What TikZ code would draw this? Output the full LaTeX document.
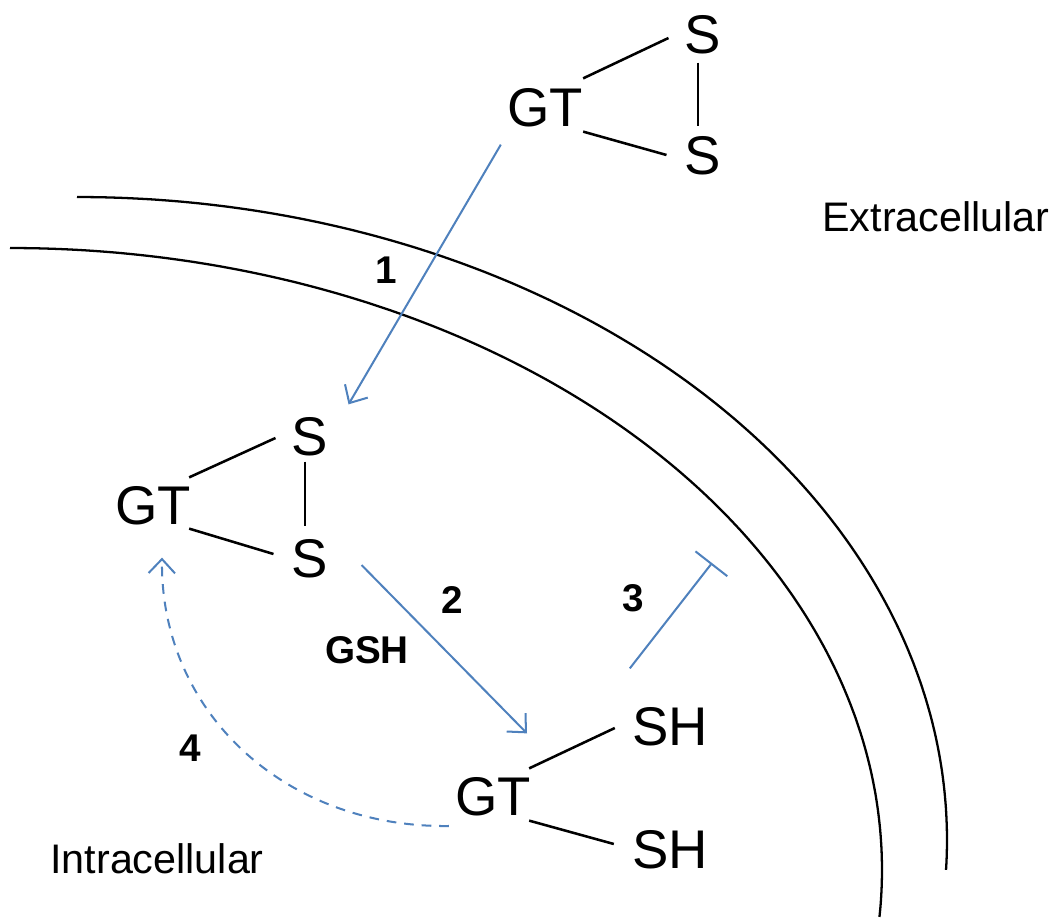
\documentclass[tikz,border=0pt]{standalone}
\usepackage{fontspec}
\setmainfont{Liberation Sans}
\usetikzlibrary{arrows.meta}
\definecolor{pathblue}{RGB}{79,129,189}
\tikzset{
  mol/.style={inner sep=0pt, font=\fontsize{31}{36}\selectfont},
  numlbl/.style={inner sep=0pt, font=\fontsize{22}{26}\selectfont\bfseries},
  region/.style={inner sep=0pt, font=\fontsize{23.5}{28}\selectfont},
  bond/.style={draw=black, line width=1.45pt},
  membrane/.style={draw=black, line width=1.3pt},
  flow/.style={draw=pathblue, line width=1.15pt, -{Straight Barb[length=8pt,width=15pt,line width=1.15pt]}},
  inhib/.style={draw=pathblue, line width=1.15pt, -{Bar[width=23pt,line width=1.15pt]}},
  recycle/.style={draw=pathblue, line width=1.15pt, dash pattern=on 5.5pt off 4.5pt, -{Straight Barb[length=8pt,width=15pt,line width=1.15pt]}}
}
\begin{document}
\begin{tikzpicture}[x=0.02cm,y=-0.02cm]
\useasboundingbox (0,0) rectangle (1054,918);
% membrane
\draw[membrane] plot[domain=-90:2.67, samples=150, smooth] ({77+870*cos(\x)}, {840+643*sin(\x)});
\draw[membrane] plot[domain=-90:4.33, samples=150, smooth] ({10+872*cos(\x)}, {870+622*sin(\x)});
% top molecule
\node[mol] (gt1) at (545,108) {GT};
\node[mol] (s1) at (703,35) {S};
\node[mol] (s2) at (703,156) {S};
\draw[bond] ([shift={(0,-10)}]gt1.north east) -- ([shift={(-16,3)}]s1.west);
\draw[bond] ([shift={(0,4)}]gt1.south east) -- ([shift={(-18,-1)}]s2.west);
\draw[bond] ([shift={(-5,8)}]s1.south) -- ([shift={(-5,-10)}]s2.north);
% middle molecule
\node[mol] (gt2) at (153,506) {GT};
\node[mol] (s3) at (310,437) {S};
\node[mol] (s4) at (310,559) {S};
\draw[bond] ([shift={(-2,-9)}]gt2.north east) -- ([shift={(-16,1)}]s3.west);
\draw[bond] ([shift={(-2,3)}]gt2.south east) -- ([shift={(-18,-5)}]s4.west);
\draw[bond] ([shift={(-5,5)}]s3.south) -- ([shift={(-5,-13)}]s4.north);
% bottom molecule
\node[mol] (gt3) at (493,797) {GT};
\node[mol] (sh1) at (670,727) {SH};
\node[mol] (sh2) at (670,850) {SH};
\draw[bond] ([shift={(-2,-9)}]gt3.north east) -- ([shift={(-17,1)}]sh1.west);
\draw[bond] ([shift={(-2,4)}]gt3.south east) -- ([shift={(-18,-6)}]sh2.west);
% labels
\node[numlbl] (n1) at (386,270) {1};
\node[numlbl] (n2) at (452,600) {2};
\node[numlbl] (n3) at (633,598) {3};
\node[numlbl] (n4) at (190,748) {4};
\node[numlbl] (gsh) at (367,650) {GSH};
\node[region, anchor=base west] (extra) at (822,232) {Extracellular};
\node[region, anchor=base west] (intra) at (50,873) {Intracellular};
% connectors
\draw[flow] ([shift={(-6,17)}]gt1.south west) -- ([shift={(20,-13)}]s3.north east);
\draw[flow] ([shift={(33,6)}]s4.east) -- ([shift={(34,-44)}]gt3.north);
\coordinate (block) at (712,563);
\draw[inhib] ([shift={(-2,-39)}]sh1.north west) -- (block);
\draw[recycle] ([shift={(-6,29)}]gt3.west) .. controls (285,828) and (160,712) .. ([shift={(9,32)}]gt2.south);
\end{tikzpicture}
\end{document}
